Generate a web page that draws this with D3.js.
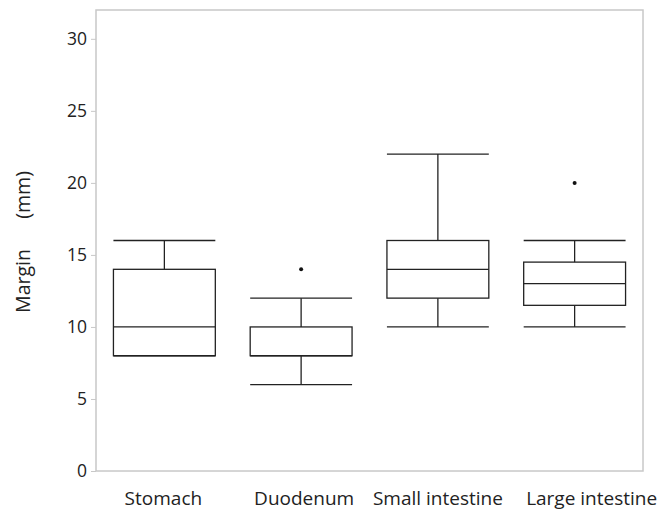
<!DOCTYPE html>
<html lang="en">
    <head>
        <meta charset="utf-8">
        <title>Margin by site</title>
        <script type="text/javascript" src="https://cdn.jsdelivr.net/npm/d3@7"></script>
        <style type="text/css">
            body { margin: 0; background: #fff; }
            text { font-family: "Open Sans", sans-serif; fill: #222; }
        </style>
    </head>

    <body>
        <script type="text/javascript">
            // Box plot stats
            var categories = ["Stomach", "Duodenum", "Small intestine", "Large intestine"];
            var whiskerLow = [8, 6, 10, 10];
            var q1 = [8, 8, 12, 11.5];
            var median = [10, 8, 14, 13];
            var q3 = [14, 10, 16, 14.5];
            var whiskerHigh = [16, 12, 22, 16];
            var outliers = [[], [14], [], [20]];
            var yTicks = [0, 5, 10, 15, 20, 25, 30];

            var w = 672;
            var h = 513;
            // plot area edges (note: "top" is taken by window.top)
            var plotLeft = 96, plotRight = 643, plotTop = 10, plotBottom = 471;
            // the category labels aren't quite centred under the boxes in the original
            var labelShift = [-1, 3, 0, 17];

            var svg = d3.select("body")
                    .append("svg")
                    .attr("width", w)
                    .attr("height", h);

            var xScale = d3.scaleBand()
                            .domain(categories)
                            .range([plotLeft, plotRight])
                            .padding(0);
            var yScale = d3.scaleLinear()
                            .domain([0, 32])
                            .range([plotBottom, plotTop]);

            var boxW = xScale.bandwidth() * 0.745;

            // frame
            svg.append("rect")
                .attr("x", plotLeft)
                .attr("y", plotTop)
                .attr("width", plotRight - plotLeft)
                .attr("height", plotBottom - plotTop)
                .attr("fill", "none")
                .attr("stroke", "#c8c8c8")
                .attr("stroke-width", 1.5);

            // y axis
            var yAxis = d3.axisLeft(yScale)
                            .tickValues(yTicks)
                            .tickSize(5)
                            .tickPadding(4);
            var yg = svg.append("g")
                .attr("transform", "translate(" + plotLeft + ",0)")
                .call(yAxis);
            yg.select(".domain").remove();
            yg.selectAll(".tick line").attr("stroke", "#c8c8c8");
            yg.selectAll(".tick text")
                .attr("font-size", "17.5px")
                .attr("font-family", "Open Sans, sans-serif")
                .attr("fill", "#222");

            // x axis labels
            var xAxis = d3.axisBottom(xScale).tickSize(0).tickPadding(21);
            var xg = svg.append("g")
                .attr("transform", "translate(0," + plotBottom + ")")
                .call(xAxis);
            xg.select(".domain").remove();
            xg.selectAll(".tick text")
                .attr("dx", function(d, i) { return labelShift[i]; })
                .attr("font-size", "19px")
                .attr("font-family", "Open Sans, sans-serif")
                .attr("fill", "#222");

            // y title
            svg.append("text")
                .attr("transform", "translate(30,242) rotate(-90)")
                .attr("text-anchor", "middle")
                .attr("font-size", "19.5px")
                .style("white-space", "pre")
                .text("Margin      (mm)");

            var stroke = "#222";
            var boxes = svg.selectAll("g.box")
                .data(categories)
                .enter()
                .append("g")
                .attr("class", "box");

            boxes.each(function(d, i) {
                var g = d3.select(this);
                var cx = xScale(d) + xScale.bandwidth() / 2;
                var x0 = cx - boxW / 2;

                // whisker stems
                g.append("line")
                    .attr("x1", cx).attr("x2", cx)
                    .attr("y1", yScale(q3[i])).attr("y2", yScale(whiskerHigh[i]))
                    .attr("stroke", stroke).attr("stroke-width", 1.3);
                g.append("line")
                    .attr("x1", cx).attr("x2", cx)
                    .attr("y1", yScale(q1[i])).attr("y2", yScale(whiskerLow[i]))
                    .attr("stroke", stroke).attr("stroke-width", 1.3);
                // whisker caps
                [whiskerHigh[i], whiskerLow[i]].forEach(function(v) {
                    g.append("line")
                        .attr("x1", x0).attr("x2", x0 + boxW)
                        .attr("y1", yScale(v)).attr("y2", yScale(v))
                        .attr("stroke", stroke).attr("stroke-width", 1.3);
                });
                // box
                g.append("rect")
                    .attr("x", x0)
                    .attr("y", yScale(q3[i]))
                    .attr("width", boxW)
                    .attr("height", yScale(q1[i]) - yScale(q3[i]))
                    .attr("fill", "none")
                    .attr("stroke", stroke)
                    .attr("stroke-width", 1.3);
                // median
                g.append("line")
                    .attr("x1", x0).attr("x2", x0 + boxW)
                    .attr("y1", yScale(median[i])).attr("y2", yScale(median[i]))
                    .attr("stroke", stroke).attr("stroke-width", 1.3);
                // outliers
                g.selectAll("circle")
                    .data(outliers[i])
                    .enter()
                    .append("circle")
                    .attr("cx", cx)
                    .attr("cy", function(v) { return yScale(v); })
                    .attr("r", 2)
                    .attr("fill", "#111");
            });
        </script>
    </body>
</html>
